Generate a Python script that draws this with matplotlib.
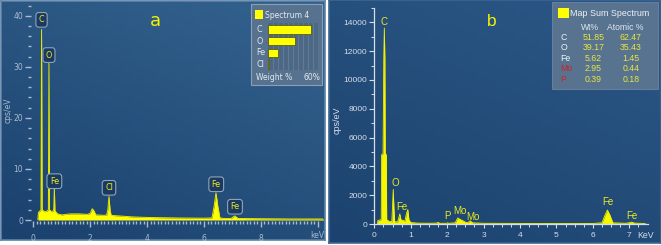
"""
两张 EDS 能谱图 (a: Spectrum 4, b: Map Sum Spectrum)
"""

import numpy as np
import matplotlib
matplotlib.use('Agg')
import matplotlib.pyplot as plt
from matplotlib.colors import LinearSegmentedColormap
from matplotlib.patches import Rectangle

# ---------------- 数据 ----------------
# (a) Spectrum 4
spec_a_kev = [0.16, 0.18, 0.24, 0.27, 0.29, 0.31, 0.40, 0.50, 0.53, 0.55, 0.57,
              0.64, 0.70, 0.72, 0.74, 0.76, 0.85, 1.00, 1.30, 1.60, 1.90, 2.00,
              2.07, 2.12, 2.20, 2.50, 2.58, 2.62, 2.66, 2.70, 2.74, 3.00, 3.50,
              4.00, 5.00, 6.00, 6.28, 6.35, 6.42, 6.49, 6.56, 6.70, 6.95, 7.08,
              7.20, 8.00, 9.00, 10.20]
spec_a_cps = [0.0, 1.5, 1.8, 2.0, 37.3, 2.0, 1.6, 1.8, 2.0, 30.7, 2.0,
              1.6, 1.8, 2.2, 6.3, 1.8, 1.2, 1.0, 1.2, 1.2, 1.1, 1.3,
              2.2, 1.9, 1.0, 0.9, 1.0, 2.0, 4.6, 1.8, 0.9, 0.8, 0.6,
              0.5, 0.4, 0.35, 0.4, 2.5, 5.3, 2.5, 0.4, 0.3, 0.3, 0.8,
              0.3, 0.25, 0.2, 0.2]
labels_a = ['C', 'O', 'Fe', 'Cl', 'Fe', 'Fe']
label_a_kev = [0.29, 0.55, 0.74, 2.66, 6.43, 7.09]
label_a_cps = [39.2, 32.3, 7.6, 6.3, 7.0, 2.6]

elements_a = ['C', 'O', 'Fe', 'Cl']
weight_a = [51.6, 32.2, 12.1, 1.2]

# (b) Map Sum Spectrum
spec_b_kev = [0.08, 0.10, 0.19, 0.20, 0.24, 0.25, 0.26, 0.275, 0.29, 0.30,
              0.33, 0.34, 0.40, 0.48, 0.50, 0.52, 0.54, 0.56, 0.64, 0.68,
              0.70, 0.73, 0.84, 0.88, 0.92, 0.95, 1.00, 1.20, 1.50, 1.70,
              1.75, 1.80, 1.98, 2.01, 2.04, 2.22, 2.29, 2.35, 2.45, 2.52,
              2.58, 2.63, 2.70, 3.00, 4.00, 5.00, 6.00, 6.25, 6.33, 6.40,
              6.47, 6.55, 6.90, 6.98, 7.06, 7.15, 7.40, 7.45]
spec_b_cps = [0, 250, 300, 4800, 4900, 8100, 11500, 13600, 11500, 4900,
              4800, 300, 200, 150, 1200, 2400, 1000, 150, 150, 500,
              700, 300, 200, 700, 1000, 300, 100, 60, 50, 60,
              110, 50, 50, 80, 50, 80, 420, 330, 200, 100,
              120, 220, 80, 50, 40, 40, 40, 80, 600, 970,
              600, 80, 50, 80, 130, 60, 40, 0]
labels_b = ['C', 'O', 'Fe', 'P', 'Mo', 'Mo', 'Fe', 'Fe']
label_b_kev = [0.275, 0.57, 0.77, 2.01, 2.35, 2.70, 6.41, 7.07]
label_b_cps = [14000, 2870, 1200, 530, 920, 510, 1530, 560]

table_elements = ['C', 'O', 'Fe', 'Mo', 'P']
table_wt = ['51.85', '39.17', '5.62', '2.95', '0.39']
table_atomic = ['62.47', '35.43', '1.45', '0.44', '0.18']

# ---------------- 画布 ----------------
W, H = 661, 245
fig = plt.figure(figsize=(W / 100, H / 100), dpi=100, facecolor='white')


def px_axes(x0, y0, x1, y1, z=0):
    """按像素坐标(左上为原点)添加坐标轴"""
    return fig.add_axes([x0 / W, 1 - y1 / H, (x1 - x0) / W, (y1 - y0) / H], zorder=z)


def fx(x):
    return x / W


def fy(y):
    return 1 - y / H


def background(x0, y0, x1, y1, c_low, c_high, edge):
    ax = px_axes(x0, y0, x1, y1, z=-2)
    cmap = LinearSegmentedColormap.from_list('bg', [c_low, c_high])
    g = np.add.outer(np.linspace(1, 0, 50), np.linspace(0, 0.6, 50))
    ax.imshow(g, extent=[0, 1, 0, 1], aspect='auto', cmap=cmap, vmin=0, vmax=1.6)
    ax.set_xlim(0, 1)
    ax.set_ylim(0, 1)
    ax.set_xticks([])
    ax.set_yticks([])
    for s in ax.spines.values():
        s.set_color(edge)
        s.set_linewidth(1.2)
    return ax


def box(x0, y0, x1, y1, **kw):
    """图例底框, 像素坐标"""
    r = Rectangle((fx(x0), fy(y1)), (x1 - x0) / W, (y1 - y0) / H,
                  transform=fig.transFigure, **kw)
    fig.patches.append(r)
    return r


background(1, 1, 325, 240, '#1b416e', '#34638f', '#5f82a6')
background(329, 0, 661, 243, '#1c436f', '#2c5786', '#3c6590')

yellow = '#ffff00'

# ---------------- (a) ----------------
tick_a = '#a8bcd0'
ax = px_axes(33.3, 3, 323.5, 220, z=-1)
ax.patch.set_alpha(0)
ax.fill_between(spec_a_kev, spec_a_cps, color=yellow, lw=0)
ax.plot(spec_a_kev, spec_a_cps, color='#e6e600', lw=0.7)
ax.set_xlim(0, 10.2)
ax.set_ylim(0, 42.5)
for s in ['top', 'right', 'bottom', 'left']:
    ax.spines[s].set_visible(False)
ax.spines['left'].set_position(('outward', 2))
ax.spines['bottom'].set_position(('outward', 1))
ax.set_xticks([0, 2, 4, 6, 8, 10])
ax.set_xticklabels(['0', '2', '4', '6', '8', ''])
ax.set_xticks(np.arange(0.125, 10.1, 0.125), minor=True)
ax.set_yticks([0, 10, 20, 30, 40])
ax.set_yticks(np.arange(0, 43, 2), minor=True)
ax.tick_params(axis='x', which='major', length=4.5, width=1, color=tick_a,
               labelcolor=tick_a, labelsize=5.5, pad=4.5)
ax.tick_params(axis='x', which='minor', length=2.4, width=1, color=tick_a)
ax.tick_params(axis='y', which='major', length=4.2, width=1, color=tick_a,
               labelcolor=tick_a, labelsize=5.5, pad=1)
ax.tick_params(axis='y', which='minor', length=2, width=1, color=tick_a)
ax.text(10.0, -3.1, 'keV', color=tick_a, fontsize=5.5, ha='center', va='center')
fig.text(fx(8), fy(110), 'cps/eV', rotation=90, color=tick_a, fontsize=5.5,
         ha='center', va='center')

for lab, xk, yc in zip(labels_a, label_a_kev, label_a_cps):
    ax.text(xk, yc, lab, color='#eeee20', fontsize=5.8, ha='center', va='center',
            bbox=dict(boxstyle='round,pad=0.35', fc='#1a3a62', ec='#8ea4bc', lw=0.8))

fig.text(fx(155), fy(21), 'a', color='#f2f200', fontsize=13, ha='center', va='center')

# 图例 (a)
box(251, 4, 322, 85, fc='#56728f', ec='#8aa0b6', lw=0.8, zorder=0)
box(255, 10, 262.7, 19, fc=yellow, ec='none', zorder=0.5)
fig.text(fx(265), fy(15), 'Spectrum 4', color='#e4eaf0', fontsize=5.5, ha='left', va='center')
axl = px_axes(268.3, 23.5, 318, 70.3, z=1)
axl.set_facecolor('#4d6884')
axl.barh(range(len(elements_a)), weight_a, height=0.71, color=yellow,
         edgecolor='#333300', lw=0.4)
axl.set_xlim(0, 60)
axl.set_ylim(3.5, -0.5)
axl.set_xticks(np.arange(6, 60, 6))
axl.set_yticks([])
axl.grid(axis='x', color='#7d95ad', lw=0.5, alpha=0.6)
axl.set_axisbelow(True)
axl.tick_params(axis='x', length=0, labelbottom=False)
for s in axl.spines.values():
    s.set_visible(False)
for i, el in enumerate(elements_a):
    axl.text(-0.245, i, el, transform=axl.get_yaxis_transform(), color='#e4eaf0',
             fontsize=5.8, ha='left', va='center', clip_on=False)
fig.text(fx(256), fy(77), 'Weight %', color='#e4eaf0', fontsize=5.5, ha='left', va='center')
fig.text(fx(320), fy(77), '60%', color='#e4eaf0', fontsize=5.5, ha='right', va='center')

# ---------------- (b) ----------------
tick_b = '#d6dee7'
plt.rcParams['font.family'] = ['Liberation Sans', 'DejaVu Sans']
bx = px_axes(374.3, 7.9, 647.5, 224, z=-1)
bx.patch.set_alpha(0)
bx.fill_between(spec_b_kev, spec_b_cps, color='#f6f600', lw=0)
bx.plot(spec_b_kev, spec_b_cps, color='#f6f600', lw=0.6)
bx.set_xlim(0, 7.5)
bx.set_ylim(0, 15000)
for s in ['top', 'right']:
    bx.spines[s].set_visible(False)
for s in ['left', 'bottom']:
    bx.spines[s].set_color(tick_b)
    bx.spines[s].set_linewidth(0.9)
bx.set_xticks(range(8))
bx.set_xticks(np.arange(0, 7.5, 0.25), minor=True)
bx.set_yticks(range(0, 15000, 2000))
bx.set_yticks(range(1000, 15001, 2000), minor=True)
bx.tick_params(axis='x', which='major', length=3, width=0.8, color=tick_b,
               labelcolor=tick_b, labelsize=6, pad=3)
bx.tick_params(axis='x', which='minor', length=1.8, width=0.7, color=tick_b)
bx.tick_params(axis='y', which='major', length=3.5, width=0.8, color=tick_b,
               labelcolor=tick_b, labelsize=6, pad=1.5)
bx.tick_params(axis='y', which='minor', length=2, width=0.7, color=tick_b)
for lab in bx.get_xticklabels() + bx.get_yticklabels():
    lab.set_family(['Liberation Sans', 'DejaVu Sans'])
fig.text(fx(646), fy(235), 'KeV', color=tick_b, fontsize=6.3, ha='center', va='center',
         family=['Liberation Sans'])
fig.text(fx(337.5), fy(120), 'cps/eV', rotation=90, color=tick_b, fontsize=6.5,
         ha='center', va='center', family=['Liberation Sans'])

for lab, xk, yc in zip(labels_b, label_b_kev, label_b_cps):
    bx.text(xk, yc, lab, color='#eaea20', fontsize=7, ha='center', va='center',
            family=['Liberation Sans'])

fig.text(fx(492), fy(21), 'b', color='#f4f400', fontsize=12.5, ha='center', va='center',
         family=['Liberation Sans'])

# 图例 (b)
box(552, 2, 658, 89, fc='#5b7591', ec='#6f88a2', lw=0.6, alpha=0.95, zorder=0)
box(558.3, 8.3, 569, 18.3, fc=yellow, ec='none', zorder=0.5)
fig.text(fx(570), fy(14), 'Map Sum Spectrum', color='#eef2f6', fontsize=6.4,
         ha='left', va='center', family=['Liberation Sans'])
fig.text(fx(590), fy(27.3), 'Wt%', color='#dfe6ee', fontsize=6.2, ha='center',
         va='center', family=['Liberation Sans'])
fig.text(fx(625), fy(27.3), 'Atomic %', color='#dfe6ee', fontsize=6.2, ha='center',
         va='center', family=['Liberation Sans'])
for i, el in enumerate(table_elements):
    yy = 37.6 + i * 10.35
    c_el = '#cc2229' if el in ('Mo', 'P') else '#eef2f6'
    fig.text(fx(560.7), fy(yy), el, color=c_el, fontsize=6.3, ha='left', va='center',
             family=['Liberation Sans'])
    fig.text(fx(593.3), fy(yy), table_wt[i], color='#e6e640', fontsize=6.3,
             ha='center', va='center', family=['Liberation Sans'])
    fig.text(fx(630.7), fy(yy), table_atomic[i], color='#e6e640', fontsize=6.3,
             ha='center', va='center', family=['Liberation Sans'])

fig.savefig('out.png', dpi=100, facecolor='white')
